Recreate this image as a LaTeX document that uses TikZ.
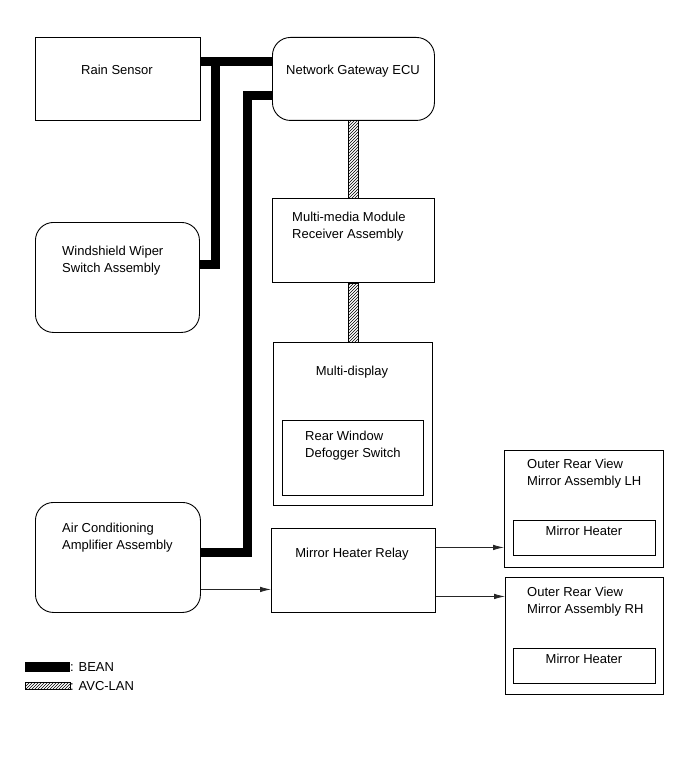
\documentclass[tikz,border=0pt]{standalone}
\usepackage{fontspec}
\setmainfont{Liberation Sans}
\usetikzlibrary{arrows.meta, patterns, positioning}

\begin{document}
\begin{tikzpicture}[x=1pt,y=-1pt,>={Latex[length=11pt,width=5.5pt]},
  box/.style={draw,line width=0.9pt,inner sep=0pt,anchor=north west},
  rbox/.style={box,rounded corners=18pt},
  txt/.style={font=\fontsize{13}{17}\selectfont,inner sep=0pt},
  ltxt/.style={txt,align=left,anchor=north west},
  bean/.style={line width=9pt},
  avc/.style={draw,line width=0.8pt,pattern=north east lines},
  sig/.style={->,line width=0.8pt,black!85}]
  \useasboundingbox (0,0) rectangle (691,757);
  % units
  \node[box,minimum width=165pt,minimum height=83pt] (rs) at (35,37) {};
  \node[txt] (rst) at (117,70) {Rain Sensor};
  \node[rbox,minimum width=162pt,minimum height=83pt] (gw) at (272,37) {};
  \node[txt] (gwt) at (353,71) {Network Gateway ECU};
  \node[rbox,minimum width=164pt,minimum height=110pt] (wiper) at (35,222) {};
  \node[ltxt] (wipert) at (62,246) {Windshield Wiper\\Switch Assembly};
  \node[box,minimum width=162pt,minimum height=84pt] (mm) at (272,198) {};
  \node[ltxt] (mmt) at (292,212) {Multi-media Module\\Receiver Assembly};
  \node[box,minimum width=159pt,minimum height=163pt] (md) at (273,342) {};
  \node[txt] (mdt) at (352,372) {Multi-display};
  \node[box,minimum width=141pt,minimum height=75pt] (defsw) at (282,420) {};
  \node[ltxt] (defswt) at (305,431) {Rear Window\\Defogger Switch};
  \node[rbox,minimum width=165pt,minimum height=110pt] (ac) at (35,502) {};
  \node[ltxt] (act) at (62,523) {Air Conditioning\\Amplifier Assembly};
  \node[box,minimum width=164pt,minimum height=84pt] (relay) at (271,528) {};
  \node[txt] (relayt) at (352,554) {Mirror Heater Relay};
  % outer mirrors
  \node[box,minimum width=159pt,minimum height=117pt] (lh) at (504,450) {};
  \node[ltxt] (lht) at (527,459) {Outer Rear View\\Mirror Assembly LH};
  \node[box,minimum width=142pt,minimum height=35pt] (lhh) at (513,520) {};
  \node[txt] (lhht) at (584,531) {Mirror Heater};
  \node[box,minimum width=158pt,minimum height=117pt] (rh) at (505,577) {};
  \node[ltxt] (rht) at (527,587) {Outer Rear View\\Mirror Assembly RH};
  \node[box,minimum width=142pt,minimum height=35pt] (rhh) at (513,648) {};
  \node[txt] (rhht) at (584,659) {Mirror Heater};
  % BEAN lines
  \coordinate (tw) at (215,62);
  \coordinate (tac) at (247,96);
  \draw[bean] (tw -| rs.east) -- (tw -| gw.west);
  \draw[bean] (tw) |- ([yshift=13pt]wiper.east);
  \draw[bean] ([yshift=5pt]ac.east) -| (tac) -- (tac -| gw.west);
  % AVC-LAN lines
  \draw[avc] ([xshift=-5pt]gw.south) rectangle ([xshift=5pt]mm.north);
  \draw[avc] ([xshift=-5pt]mm.south) rectangle ([xshift=5pt]md.north);
  % signal lines
  \coordinate (acout) at ([yshift=-32pt]ac.east);
  \coordinate (lhout) at ([yshift=23pt]relay.east);
  \coordinate (rhout) at ([yshift=-26pt]relay.east);
  \draw[sig] (acout) -- (acout -| relay.west);
  \draw[sig] (lhout) -- (lhout -| lh.west);
  \draw[sig] (rhout) -- (rhout -| rh.west);
  % legend
  \fill (25,662) rectangle (70,672);
  \node[txt,anchor=west] (beant) at (70,667) {: BEAN};
  \draw[avc] (25,682) rectangle (70,689);
  \node[txt,anchor=west] (avct) at (70,686) {: AVC-LAN};
\end{tikzpicture}
\end{document}
